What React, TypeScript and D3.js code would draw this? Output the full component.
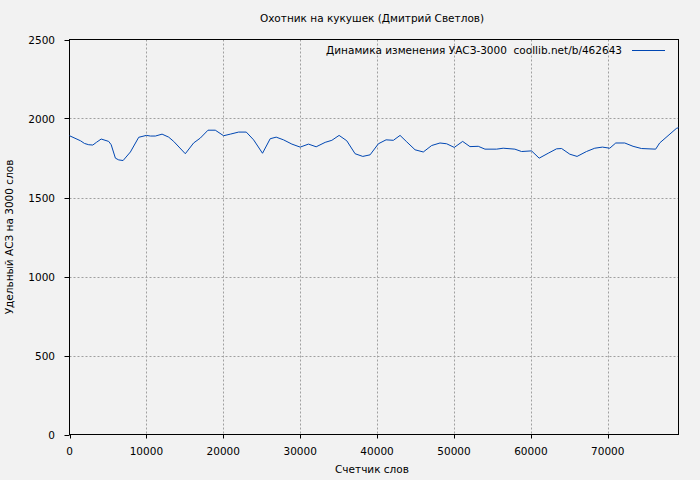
import React from "react";
import * as d3 from "d3";

const title = "Охотник на кукушек (Дмитрий Светлов)";
const legendLabel = "Динамика изменения УАСЗ-3000  coollib.net/b/462643";
const xLabel = "Счетчик слов";
const yLabel = "Удельный АСЗ на 3000 слов";

const xTicks = [0, 10000, 20000, 30000, 40000, 50000, 60000, 70000];
const yTicks = [0, 500, 1000, 1500, 2000, 2500];

const words = [
  0, 1430, 1950, 2500, 3030, 3500, 4120, 5100, 5420, 5970, 6400, 6970, 7920, 9000, 10000,
  10520, 11170, 12040, 12900, 13550, 15060, 16140, 17010, 18010, 18960, 20040, 20910,
  21990, 22990, 23940, 25100, 26100, 26880, 27830, 28920, 30000, 31080, 32080, 33250,
  34120, 35060, 36060, 37140, 38140, 39090, 40170, 41170, 42120, 42990, 43860, 44940,
  46010, 47100, 48180, 49050, 50040, 51130, 52080, 53160, 54030, 55540, 56400, 57920,
  58790, 60090, 61080, 62250, 63340, 64000, 65070, 66010, 67230, 68310, 69310, 70260,
  71040, 72210, 73290, 74380, 76230, 76750, 78920, 79200,
];
const values = [
  1891, 1859, 1842, 1834, 1832, 1849, 1870, 1855, 1834, 1749, 1738, 1734, 1788, 1881, 1893,
  1889, 1889, 1901, 1882, 1855, 1777, 1845, 1876, 1926, 1926, 1891, 1901,
  1914, 1914, 1865, 1780, 1872, 1882, 1865, 1838, 1819, 1838, 1821, 1849,
  1862, 1893, 1859, 1777, 1760, 1770, 1840, 1865, 1862, 1893, 1852, 1802,
  1788, 1829, 1845, 1840, 1817, 1855, 1822, 1824, 1806, 1806, 1812, 1806,
  1791, 1795, 1749, 1780, 1808, 1810, 1774, 1760, 1791, 1812, 1819, 1812,
  1845, 1845, 1824, 1810, 1806, 1845, 1937, 1942,
];

const W = 700;
const H = 480;
const M = { left: 69.5, right: 678.5, top: 39.5, bottom: 434.5 };
const FONT = "DejaVu Sans, sans-serif";

export default function App() {
  const x = d3.scaleLinear().domain([0, 79200]).range([M.left, M.right]);
  const y = d3.scaleLinear().domain([0, 2500]).range([M.bottom, M.top]);
  const data = words.map((w, i) => [w, values[i]] as [number, number]);
  const line = d3
    .line<[number, number]>()
    .x((d) => x(d[0]))
    .y((d) => y(d[1]));

  return (
    <svg
      width={W}
      height={H}
      style={{ position: "absolute", left: 0, top: 0, background: "#f2f2f2" }}
      fontFamily={FONT}
    >
      <rect x={0} y={0} width={W} height={H} fill="#f2f2f2" />
      {/* grid */}
      {xTicks.slice(1).map((t) => (
        <line
          key={"gx" + t}
          x1={Math.round(x(t)) + 0.5}
          x2={Math.round(x(t)) + 0.5}
          y1={M.top}
          y2={M.bottom}
          stroke="#a0a0a0"
          strokeDasharray="2,2"
        />
      ))}
      {yTicks.slice(1, -1).map((t) => (
        <line
          key={"gy" + t}
          x1={M.left}
          x2={M.right}
          y1={Math.round(y(t)) + 0.5}
          y2={Math.round(y(t)) + 0.5}
          stroke="#a0a0a0"
          strokeDasharray="2,2"
        />
      ))}
      {/* ticks */}
      {xTicks.map((t) => (
        <g key={"tx" + t}>
          <line
            x1={Math.round(x(t)) + 0.5}
            x2={Math.round(x(t)) + 0.5}
            y1={M.bottom}
            y2={M.bottom + 4}
            stroke="#000"
          />
          <text
            x={x(t)}
            y={455}
            textAnchor="middle"
            fontSize={10.5}
            fill="#000"
          >
            {t}
          </text>
        </g>
      ))}
      {yTicks.map((t) => (
        <g key={"ty" + t}>
          <line
            x1={M.left - 5}
            x2={M.left}
            y1={Math.round(y(t)) + 0.5}
            y2={Math.round(y(t)) + 0.5}
            stroke="#000"
          />
          <text
            x={55}
            y={y(t) + 4}
            textAnchor="end"
            fontSize={10.5}
            fill="#000"
          >
            {t}
          </text>
        </g>
      ))}
      {/* border */}
      <rect
        x={M.left}
        y={M.top}
        width={M.right - M.left}
        height={M.bottom - M.top}
        fill="none"
        stroke="#000"
        strokeWidth={1}
      />
      {/* data line */}
      <path d={line(data) || ""} fill="none" stroke="#0047b3" strokeWidth={1} />
      {/* legend */}
      <text
        x={622}
        y={54}
        textAnchor="end"
        fontSize={10.5}
        fill="#000"
        style={{ whiteSpace: "pre" }}
        xmlSpace="preserve"
      >
        {legendLabel}
      </text>
      <line x1={632} x2={665} y1={50.5} y2={50.5} stroke="#0047b3" />
      {/* titles */}
      <text x={372} y={22} textAnchor="middle" fontSize={10.5} fill="#000">
        {title}
      </text>
      <text x={372} y={473} textAnchor="middle" fontSize={10.5} fill="#000">
        {xLabel}
      </text>
      <text
        transform={`translate(13,237) rotate(-90)`}
        textAnchor="middle"
        fontSize={10.5}
        fill="#000"
      >
        {yLabel}
      </text>
    </svg>
  );
}
